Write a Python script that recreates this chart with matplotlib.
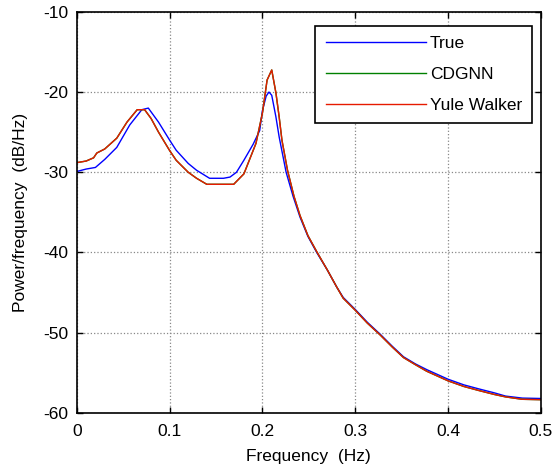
import matplotlib
matplotlib.use("Agg")
import matplotlib.pyplot as plt

plt.rcParams['font.family'] = ['Liberation Sans', 'DejaVu Sans']
plt.rcParams['axes.unicode_minus'] = False

# True PSD
f_true = [0, 0.01, 0.02, 0.03, 0.043, 0.057, 0.07, 0.077, 0.088, 0.1, 0.107,
          0.12, 0.129, 0.143, 0.158, 0.165, 0.172, 0.18, 0.19, 0.197, 0.2,
          0.204, 0.207, 0.21, 0.2145, 0.218, 0.2255, 0.233, 0.2405, 0.249, 0.2585,
          0.27, 0.28, 0.287, 0.3, 0.313, 0.327, 0.34, 0.352, 0.365, 0.377, 0.4,
          0.417, 0.433, 0.45, 0.462, 0.48, 0.5]
p_true = [-29.9, -29.6, -29.4, -28.4, -26.9, -24.1, -22.2, -22.0, -23.75, -26.0, -27.25,
          -28.9, -29.75, -30.75, -30.75, -30.6, -30.0, -28.5, -26.5, -24.8, -22.3,
          -20.5, -20.0, -20.4, -23.1, -25.6, -30.0, -33.0, -35.6, -38.0, -40.0,
          -42.2, -44.3, -45.6, -47.1, -48.7, -50.2, -51.7, -53.0, -53.9, -54.6, -55.8,
          -56.5, -57.0, -57.5, -57.9, -58.15, -58.2]

# CDGNN and Yule Walker estimates (almost identical)
f_est = [0, 0.01, 0.018, 0.0215, 0.03, 0.043, 0.054, 0.065, 0.073, 0.08, 0.088,
         0.1, 0.107, 0.12, 0.129, 0.14, 0.169, 0.18, 0.193, 0.2, 0.205, 0.21,
         0.2145, 0.218, 0.221, 0.227, 0.234, 0.2405, 0.249, 0.2585, 0.27, 0.28,
         0.287, 0.3, 0.313, 0.327, 0.34, 0.352, 0.365, 0.377, 0.4, 0.417, 0.433,
         0.45, 0.462, 0.48, 0.5]
p_cdgnn = [-28.8, -28.6, -28.2, -27.6, -27.1, -25.75, -23.75, -22.2, -22.2, -23.3, -25.0,
           -27.3, -28.5, -30.0, -30.75, -31.5, -31.5, -30.2, -26.4, -22.6, -18.5, -17.25,
           -20.1, -23.1, -26.0, -29.75, -33.0, -35.4, -37.9, -39.9, -42.2, -44.3,
           -45.7, -47.2, -48.8, -50.3, -51.8, -53.1, -54.0, -54.8, -56.0, -56.7, -57.2,
           -57.7, -58.0, -58.3, -58.35]
p_yule = [-28.8, -28.6, -28.2, -27.6, -27.1, -25.75, -23.75, -22.2, -22.2, -23.3, -25.0,
          -27.3, -28.5, -30.0, -30.75, -31.5, -31.5, -30.2, -26.4, -22.6, -18.5, -17.25,
          -20.1, -23.1, -26.0, -29.75, -33.0, -35.4, -37.9, -39.9, -42.2, -44.3,
          -45.7, -47.2, -48.8, -50.3, -51.8, -53.1, -54.0, -54.8, -56.0, -56.7, -57.2,
          -57.7, -58.0, -58.3, -58.35]

xticks = [0, 0.1, 0.2, 0.3, 0.4, 0.5]
yticks = [-60, -50, -40, -30, -20, -10]

fig = plt.figure(figsize=(5.57, 4.73), dpi=100)
ax = fig.add_axes([0.138, 0.127, 0.833, 0.848])

ax.plot(f_true, p_true, color=(0, 0, 1), lw=1, label="True")
ax.plot(f_est, p_cdgnn, color=(0, 0.5, 0), lw=1, label="CDGNN")
ax.plot(f_est, p_yule, color=(0.9, 0.1, 0), lw=1, label="Yule Walker")

ax.set_xlim(0, 0.5)
ax.set_ylim(-60, -10)
ax.set_xticks(xticks)
ax.set_xticklabels(["0", "0.1", "0.2", "0.3", "0.4", "0.5"])
ax.set_yticks(yticks)
ax.tick_params(direction='in', top=True, right=True, length=4, width=1,
               labelsize=12.5)
ax.tick_params(axis='x', pad=8)
ax.tick_params(axis='y', pad=6)
ax.grid(True, linestyle=':', color='#888888', linewidth=0.9)
for s in ax.spines.values():
    s.set_linewidth(1.2)

ax.set_xlabel("Frequency  (Hz)", fontsize=12.5, labelpad=7)
ax.set_ylabel("Power/frequency  (dB/Hz)", fontsize=12.5, labelpad=11)

leg = ax.legend(loc='upper right', bbox_to_anchor=(0.982, 0.965), fontsize=12.5,
                handlelength=5.8, handletextpad=0.2, labelspacing=0.9,
                fancybox=False, framealpha=1, borderpad=0.6, borderaxespad=0)
leg.get_frame().set_edgecolor('black')
leg.get_frame().set_linewidth(1.2)

fig.savefig("out.png", dpi=100)
